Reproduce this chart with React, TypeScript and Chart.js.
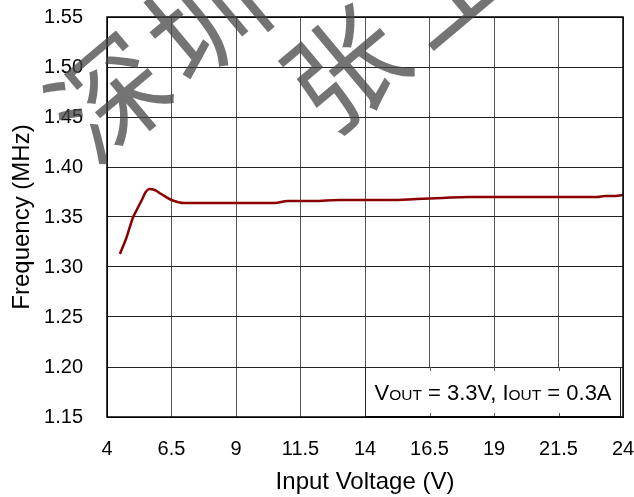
import React, { useEffect, useRef } from 'react';
import { Chart, registerables } from 'chart.js';

Chart.register(...registerables);

const inputVoltage = [4.5, 4.75, 5.0, 5.15, 5.35, 5.5, 5.65, 5.85, 6.1, 6.5, 7, 8, 9, 10, 10.5, 11, 12, 13, 14, 15, 16, 17, 18, 19, 20, 21, 22, 23, 23.3, 23.6, 24];
const frequency = [1.313, 1.329, 1.349, 1.357, 1.367, 1.375, 1.378, 1.377, 1.373, 1.367, 1.364, 1.364, 1.364, 1.364, 1.364, 1.366, 1.366, 1.367, 1.367, 1.367, 1.368, 1.369, 1.370, 1.370, 1.370, 1.370, 1.370, 1.370, 1.371, 1.371, 1.372];
const xTicks = [4, 6.5, 9, 11.5, 14, 16.5, 19, 21.5, 24];
const yTicks = [1.15, 1.2, 1.25, 1.3, 1.35, 1.4, 1.45, 1.5, 1.55];
const yTickLabels = ['1.15', '1.20', '1.25', '1.30', '1.35', '1.40', '1.45', '1.50', '1.55'];
const xTitle = 'Input Voltage (V)';
const yTitle = 'Frequency (MHz)';
const noteParts = [
  { t: 'V', sub: false },
  { t: 'OUT', sub: true },
  { t: ' = 3.3V, ', sub: false },
  { t: 'I', sub: false },
  { t: 'OUT', sub: true },
  { t: ' = 0.3A', sub: false },
];
const noteBox = { x0: 14, x1: 24, y0: 1.15, y1: 1.2 };
const watermark = [
  { ch: '深', x: 109, y: 97 },
  { ch: '圳', x: 205, y: 18 },
  { ch: '市', x: 300, y: -62 },
  { ch: '张', x: 345, y: 68 },
  { ch: '工', x: 445, y: -16 },
];

const FONT = "'Liberation Sans', Arial, sans-serif";

const framePlugin = {
  id: 'frame',
  afterDatasetsDraw(chart: any) {
    const { ctx, chartArea: a, scales } = chart;
    const xs = scales.x, ys = scales.y;
    const bx0 = xs.getPixelForValue(noteBox.x0);
    const bx1 = xs.getPixelForValue(noteBox.x1) - 2;
    const by0 = ys.getPixelForValue(noteBox.y1);
    const by1 = ys.getPixelForValue(noteBox.y0);
    ctx.save();
    ctx.fillStyle = '#fff';
    ctx.fillRect(bx0, by0, bx1 - bx0, by1 - by0);
    ctx.strokeStyle = '#222';
    ctx.lineWidth = 1;
    ctx.strokeRect(bx0 + 0.5, by0 + 0.5, bx1 - bx0 - 1, by1 - by0 - 1);
    ctx.strokeStyle = '#555';
    for (const v of xTicks) {
      if (v > noteBox.x0 && v < noteBox.x1) {
        const px = Math.round(xs.getPixelForValue(v)) + 0.5;
        ctx.beginPath();
        ctx.moveTo(px, by0); ctx.lineTo(px, by0 + 4);
        ctx.moveTo(px, by1); ctx.lineTo(px, by1 - 4);
        ctx.stroke();
      }
    }
    const big = `22px ${FONT}`;
    const small = `15.5px ${FONT}`;
    let total = 0;
    for (const p of noteParts) {
      ctx.font = p.sub ? small : big;
      total += ctx.measureText(p.t).width;
    }
    let x = (bx0 + bx1) / 2 - total / 2;
    const base = (by0 + by1) / 2 + 8;
    ctx.fillStyle = '#000';
    ctx.textBaseline = 'alphabetic';
    ctx.textAlign = 'left';
    for (const p of noteParts) {
      ctx.font = p.sub ? small : big;
      ctx.fillText(p.t, x, base);
      x += ctx.measureText(p.t).width;
    }
    ctx.strokeStyle = '#000';
    ctx.lineWidth = 1.5;
    ctx.strokeRect(a.left, a.top, a.right - a.left, a.bottom - a.top);
    ctx.restore();
  },
  afterDraw(chart: any) {
    const { ctx } = chart;
    ctx.save();
    ctx.fillStyle = 'rgba(70,70,70,0.75)';
    ctx.font = "115px 'Noto Sans CJK SC'";
    ctx.textAlign = 'center';
    ctx.textBaseline = 'middle';
    for (const w of watermark) {
      ctx.save();
      ctx.translate(w.x, w.y);
      ctx.rotate(-40 * Math.PI / 180);
      ctx.fillText(w.ch, 0, 0);
      ctx.restore();
    }
    ctx.restore();
  },
};

export default function App() {
  const ref = useRef<HTMLCanvasElement | null>(null);
  useEffect(() => {
    document.body.style.margin = '0';
    const canvas = ref.current;
    if (!canvas) return;
    const chart = new Chart(canvas, {
      type: 'line',
      data: {
        datasets: [
          {
            data: inputVoltage.map((v, i) => ({ x: v, y: frequency[i] })),
            borderColor: '#8b0000',
            borderWidth: 2.5,
            pointRadius: 0,
            fill: false,
            cubicInterpolationMode: 'monotone',
          },
        ],
      },
      options: {
        animation: false,
        responsive: false,
        devicePixelRatio: 1,
        layout: { padding: { top: 17, right: 11, left: 0, bottom: 0 } },
        plugins: { legend: { display: false }, tooltip: { enabled: false } },
        scales: {
          x: {
            type: 'linear',
            min: 4,
            max: 24,
            afterBuildTicks: (s: any) => { s.ticks = xTicks.map((v) => ({ value: v })); },
            afterFit: (s: any) => { s.height = 80; s.paddingLeft = 0; s.paddingRight = 0; },
            ticks: {
              color: '#000',
              font: { family: FONT, size: 20 },
              padding: 20,
              maxRotation: 0,
              autoSkip: false,
              callback: (v: any) => String(v),
            },
            grid: { color: '#555', lineWidth: 1, drawTicks: false },
            border: { color: '#000', width: 1 },
            title: {
              display: true,
              text: xTitle,
              color: '#000',
              font: { family: FONT, size: 24 },
              padding: { top: 0, bottom: 0 },
            },
          },
          y: {
            type: 'linear',
            min: 1.15,
            max: 1.55,
            afterBuildTicks: (s: any) => { s.ticks = yTicks.map((v) => ({ value: v })); },
            afterFit: (s: any) => { s.width = 107; s.paddingTop = 0; s.paddingBottom = 0; },
            ticks: {
              color: '#000',
              font: { family: FONT, size: 20 },
              padding: 24,
              autoSkip: false,
              callback: (_v: any, i: number) => yTickLabels[i],
            },
            grid: { color: '#222', lineWidth: 1, drawTicks: false },
            border: { color: '#000', width: 1 },
            title: {
              display: true,
              text: yTitle,
              color: '#000',
              font: { family: FONT, size: 24 },
              padding: { top: 8, bottom: 0 },
            },
          },
        },
      },
      plugins: [framePlugin],
    } as any);
    return () => chart.destroy();
  }, []);
  return (
    <div style={{ position: 'absolute', left: 0, top: 0, width: 634, height: 497, background: '#fff' }}>
      <canvas ref={ref} width={634} height={497} style={{ width: 634, height: 497, display: 'block' }} />
    </div>
  );
}
